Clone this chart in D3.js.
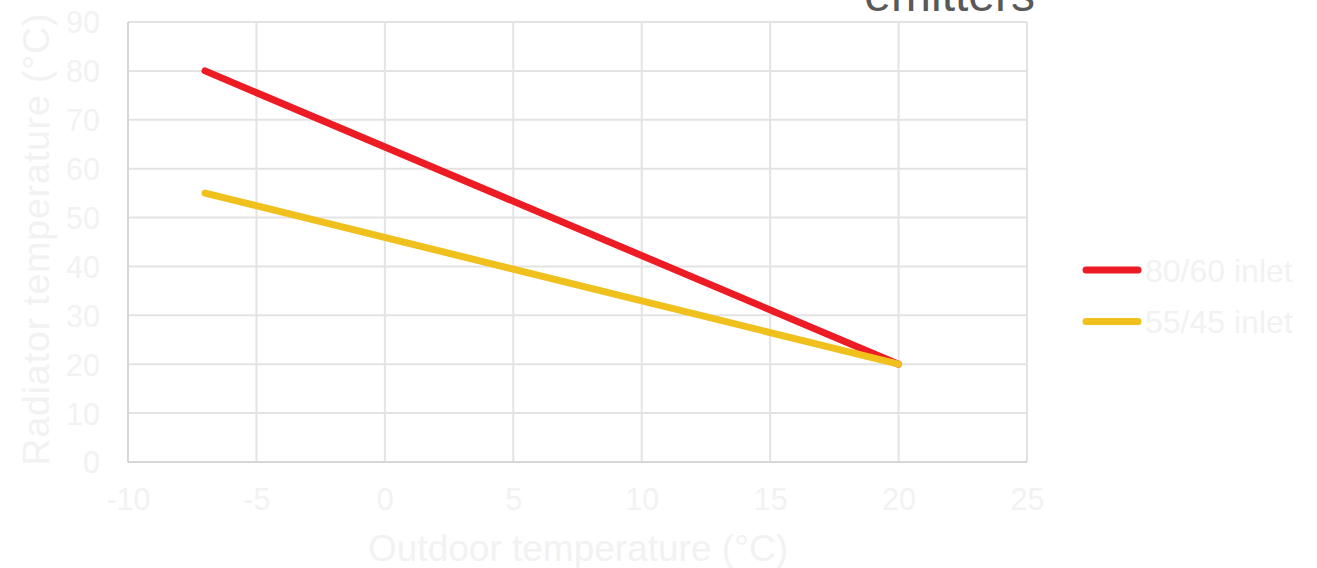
<!DOCTYPE html>
<html><head><meta charset="utf-8">
<script src="https://cdn.jsdelivr.net/npm/d3@7"></script>
<style>body{margin:0;background:#fff;} svg{display:block;font-family:"Liberation Sans",Arial,sans-serif;}</style>
</head><body>
<svg id="c" width="1317" height="568"></svg>
<script>
const seriesNames = ["80/60 inlet", "55/45 inlet"];
const seriesColors = ["#ed1c24", "#f0c01c"];
const outdoorTemps = [-7, 20];
const inlet8060 = [80, 20];
const inlet5545 = [55, 20];
const xTicks = [-10, -5, 0, 5, 10, 15, 20, 25];
const yTicks = [0, 10, 20, 30, 40, 50, 60, 70, 80, 90];
const titleText = "emitters";
const xTitle = "Outdoor temperature (°C)";
const yTitle = "Radiator temperature (°C)";

const svg = d3.select("#c");
const m = {left:128, right:1027, top:22, bottom:462};
const x = d3.scaleLinear().domain([-10,25]).range([m.left,m.right]);
const y = d3.scaleLinear().domain([0,90]).range([m.bottom,m.top]);
const textCol = "#f2f2f2";
const fmt = d => String(d);

// grid
svg.append("g").selectAll("line").data(xTicks).join("line")
  .attr("x1",d=>x(d)).attr("x2",d=>x(d)).attr("y1",m.top).attr("y2",m.bottom)
  .attr("stroke","#e3e3e3").attr("stroke-width",2);
svg.append("g").selectAll("line").data(yTicks).join("line")
  .attr("x1",m.left).attr("x2",m.right).attr("y1",d=>y(d)).attr("y2",d=>y(d))
  .attr("stroke","#e3e3e3").attr("stroke-width",2);
// axis lines
svg.append("line").attr("x1",m.left).attr("x2",m.right).attr("y1",m.bottom).attr("y2",m.bottom).attr("stroke","#d6d6d6").attr("stroke-width",2);
svg.append("line").attr("x1",m.left).attr("x2",m.left).attr("y1",m.top).attr("y2",m.bottom).attr("stroke","#d6d6d6").attr("stroke-width",2);

// tick labels via axes
const xAxis = svg.append("g").attr("transform",`translate(0,${m.bottom})`)
  .call(d3.axisBottom(x).tickValues(xTicks).tickSize(0).tickPadding(0).tickFormat(fmt));
xAxis.select(".domain").remove();
xAxis.selectAll("text").attr("dy",null).attr("y",48).attr("font-size",30.5).attr("fill",textCol).attr("font-family","Liberation Sans, Arial, sans-serif");
const yAxis = svg.append("g").attr("transform",`translate(100,0)`)
  .call(d3.axisLeft(y).tickValues(yTicks).tickSize(0).tickPadding(0).tickFormat(fmt));
yAxis.select(".domain").remove();
yAxis.selectAll("text").attr("x",0).attr("dy","0.36em").attr("font-size",30.5).attr("fill",textCol).attr("font-family","Liberation Sans, Arial, sans-serif");

// lines
const data = [inlet8060, inlet5545].map((vals,i)=>({name:seriesNames[i],color:seriesColors[i],pts:outdoorTemps.map((t,j)=>[t,vals[j]])}));
const line = d3.line().x(d=>x(d[0])).y(d=>y(d[1]));
svg.append("g").selectAll("path").data(data).join("path")
  .attr("d",d=>line(d.pts)).attr("fill","none").attr("stroke",d=>d.color)
  .attr("stroke-width",7).attr("stroke-linecap","round").attr("stroke-linejoin","round");

// titles
svg.append("text").attr("x",1035).attr("y",11).attr("text-anchor","end").attr("font-size",48).attr("fill","#595959").text(titleText);
svg.append("text").attr("x",578).attr("y",561).attr("text-anchor","middle").attr("font-size",37)
  .attr("textLength",420).attr("lengthAdjust","spacing").attr("fill",textCol).text(xTitle);
svg.append("text").attr("transform",`translate(49,239.5) rotate(-90)`).attr("text-anchor","middle").attr("font-size",37.5)
  .attr("textLength",452).attr("lengthAdjust","spacing").attr("fill",textCol).text(yTitle);

// legend
const lg = svg.append("g").selectAll("g").data(data).join("g").attr("transform",(d,i)=>`translate(0,${270+i*51.5})`);
lg.append("line").attr("x1",1086).attr("x2",1138).attr("y1",0).attr("y2",0).attr("stroke",d=>d.color).attr("stroke-width",7).attr("stroke-linecap","round");
lg.append("text").attr("x",1145).attr("y",11.5).attr("font-size",32).attr("fill",textCol).text(d=>d.name);
</script>
</body></html>
